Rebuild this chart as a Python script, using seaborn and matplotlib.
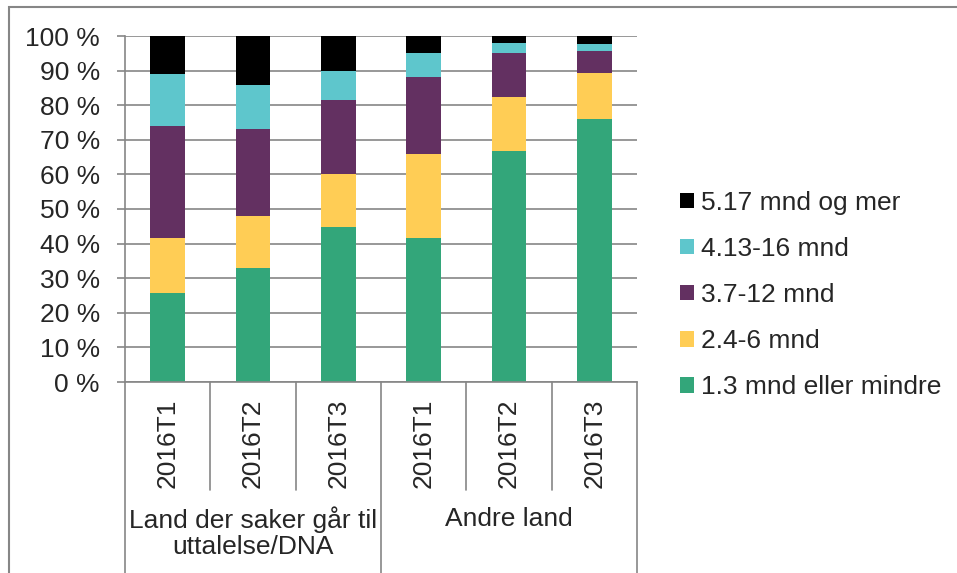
import numpy as np
import pandas as pd
import matplotlib
matplotlib.use("Agg")
import matplotlib.pyplot as plt
from matplotlib.patches import Patch, Rectangle
import seaborn as sns

# --- data (percent shares per bar) ---
periods = ["2016T1", "2016T2", "2016T3", "2016T1", "2016T2", "2016T3"]
groups = ["Land der saker går til\nuttalelse/DNA", "Andre land"]
series = ["1.3 mnd eller mindre", "2.4-6 mnd", "3.7-12 mnd", "4.13-16 mnd", "5.17 mnd og mer"]
v_1_3 = [25.6, 32.9, 44.8, 41.7, 66.7, 76.0]
v_4_6 = [16.1, 15.2, 15.4, 24.2, 15.8, 13.3]
v_7_12 = [32.3, 25.0, 21.3, 22.3, 12.7, 6.3]
v_13_16 = [15.0, 12.6, 8.5, 6.8, 2.8, 2.1]
v_17_plus = [11.0, 14.3, 10.0, 5.0, 2.0, 2.3]
colors = ["#33A67A", "#FFCD55", "#633061", "#5EC6CC", "#000000"]

values = [v_1_3, v_4_6, v_7_12, v_13_16, v_17_plus]
slots = [f"{g}-{p}" for g, p in zip([0, 0, 0, 1, 1, 1], periods)]
cum = np.cumsum(np.array(values), axis=0)

sns.set_style("white")
plt.rcParams["font.family"] = ["Liberation Sans", "DejaVu Sans"]
FS = 19
plt.rcParams["font.size"] = FS
grey = "#868686"

fig = plt.figure(figsize=(9.57, 5.73), dpi=100)
ax = fig.add_axes([125 / 957, 1 - 382 / 573, 512 / 957, 346 / 573])

# stacked bars: draw cumulative totals from the top layer down
for i in range(len(series) - 1, -1, -1):
    df = pd.DataFrame({"slot": slots, "cum": cum[i]})
    sns.barplot(data=df, x="slot", y="cum", order=slots, color=colors[i],
                saturation=1, width=0.41, linewidth=0, errorbar=None, ax=ax)

ax.set_xlim(-0.5, 5.5)
ax.set_ylim(0, 100)
ax.set_yticks(range(0, 101, 10))
ax.set_yticklabels([f"{v} %" for v in range(0, 101, 10)])
ax.set_xticks([])
ax.set_xlabel("")
ax.set_ylabel("")
ax.set_axisbelow(True)
ax.grid(axis="y", color=grey, lw=1.2)
ax.tick_params(axis="y", left=True, length=6, width=1.2, color=grey, pad=12,
               labelsize=FS)
for s in ["top", "right"]:
    ax.spines[s].set_visible(False)
for s in ["left", "bottom"]:
    ax.spines[s].set_color(grey)
    ax.spines[s].set_linewidth(1.2)

# two-level category axis
trans = ax.get_xaxis_transform()
for k, x in enumerate(np.arange(-0.5, 6, 1.0)):
    y_end = -0.56 if k in (0, 3, 6) else -0.312
    ax.plot([x, x], [0, y_end], color=grey, lw=1.2, transform=trans, clip_on=False)
for k, p in enumerate(periods):
    ax.text(k, -0.178, p, rotation=90, ha="center", va="center",
            transform=trans, fontsize=FS)
ax.text(1, -0.36, groups[0], ha="center", va="top", transform=trans,
        fontsize=FS, linespacing=1.1)
ax.text(4, -0.36, groups[1], ha="center", va="top", transform=trans,
        fontsize=FS)

# legend (top layer first)
handles = [Patch(facecolor=colors[i], edgecolor="none") for i in range(4, -1, -1)]
labels = [series[i] for i in range(4, -1, -1)]
fig.legend(handles, labels, loc="center left", bbox_to_anchor=(680 / 957, 1 - 295 / 573),
           frameon=False, fontsize=FS, handlelength=0.52, handleheight=0.52,
           handletextpad=0.27, labelspacing=0.84, borderpad=0, borderaxespad=0)

# outer chart border (runs off the right and bottom edge)
fig.add_artist(Rectangle((9 / 957, -0.1), 1.2, 1 - 7 / 573 + 0.1,
                         transform=fig.transFigure, fill=False,
                         edgecolor=grey, lw=1.5))

fig.savefig("out.png", dpi=100)
